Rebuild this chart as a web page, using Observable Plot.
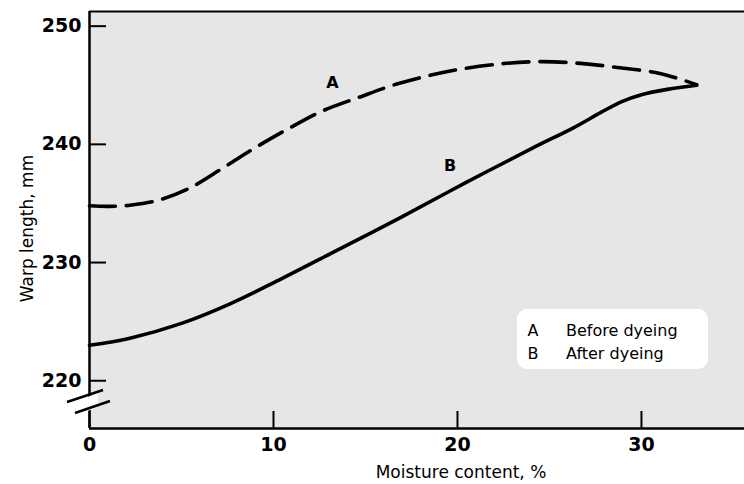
<!DOCTYPE html>
<html>
<head>
<meta charset="utf-8">
<script src="https://cdn.jsdelivr.net/npm/d3@7"></script>
<script src="https://cdn.jsdelivr.net/npm/@observablehq/plot@0.6"></script>
<style>
  html, body { margin: 0; padding: 0; background: #fff; }
  #chart { width: 744px; height: 484px; position: relative; }
</style>
</head>
<body>
<div id="chart"></div>
<script>
// Tick values
const xTicks = [0, 10, 20, 30];
const yTicks = [220, 230, 240, 250];

// Curve A: before dyeing (dashed)
const aMoisture = [0, 1.1, 2.2, 3.7, 5.5, 7.3, 9.1, 10.9, 12.7, 14.6, 16.7, 19.6, 22.3, 24.5, 26.7, 28.7, 31.0, 33.0];
const aLength   = [234.8, 234.75, 234.85, 235.25, 236.35, 238.05, 239.8, 241.4, 242.85, 243.95, 245.1, 246.2, 246.8, 247.0, 246.85, 246.5, 246.0, 245.05];

// Curve B: after dyeing (solid)
const bMoisture = [0, 2.2, 5.0, 7.7, 10.4, 13.1, 16.9, 20.5, 24.1, 26.3, 27.8, 28.9, 30.0, 31.4, 33.0];
const bLength   = [223.0, 223.6, 224.85, 226.55, 228.6, 230.75, 233.8, 236.8, 239.7, 241.4, 242.7, 243.6, 244.2, 244.65, 245.0];

// Curve labels
const curveNames = ["A", "B"];
const curveLabelX = [13.2, 19.6];
const curveLabelY = [245.2, 238.2];

// Legend
const legendKeys = ["A", "B"];
const legendNames = ["Before dyeing", "After dyeing"];

const A = aMoisture.map((x, i) => ({x, y: aLength[i]}));
const B = bMoisture.map((x, i) => ({x, y: bLength[i]}));
const labels = curveNames.map((t, i) => ({t, x: curveLabelX[i], y: curveLabelY[i]}));

const yDomain = [215.96, 251.24];

const chart = Plot.plot({
  width: 744,
  height: 484,
  marginLeft: 89,
  marginRight: 0,
  marginTop: 11,
  marginBottom: 56,
  style: {fontFamily: "DejaVu Sans", background: "white", color: "black"},
  x: {domain: [0, 35.6]},
  y: {domain: yDomain},
  marks: [
    Plot.frame({fill: "#e6e6e6", stroke: null}),
    // inward ticks
    Plot.axisX(xTicks, {tickSize: -17, strokeWidth: 2, tickFormat: () => "", label: null}),
    Plot.axisY(yTicks, {tickSize: -17, strokeWidth: 2, tickFormat: () => "", label: null}),
    // tick labels
    Plot.axisX(xTicks, {tickSize: 0, tickPadding: 9, fontSize: 19, fontWeight: "bold", label: null}),
    Plot.axisY(yTicks, {tickSize: 0, tickPadding: 8, fontSize: 19, fontWeight: "bold", label: null}),
    // frame lines
    Plot.ruleX([0], {stroke: "black", strokeWidth: 2.5}),
    Plot.ruleY([yDomain[0]], {stroke: "black", strokeWidth: 2.5}),
    Plot.ruleY([yDomain[1]], {stroke: "black", strokeWidth: 2}),
    // curves
    Plot.line(A, {x: "x", y: "y", curve: "catmull-rom", stroke: "black", strokeWidth: 3.6, strokeDasharray: "26,11"}),
    Plot.line(B, {x: "x", y: "y", curve: "catmull-rom", stroke: "black", strokeWidth: 3.6}),
    Plot.text(labels, {x: "x", y: "y", text: "t", fontSize: 16, fontWeight: "bold", fill: "black"}),
    // axis titles
    Plot.text(["Moisture content, %"], {frameAnchor: "bottom", textAnchor: "middle", lineAnchor: "middle", dx: 44, dy: 44, fontSize: 17, fill: "black"}),
    Plot.text(["Warp length, mm"], {frameAnchor: "left", textAnchor: "middle", lineAnchor: "middle", rotate: -90, dx: -62, dy: 8.5, fontSize: 17, fill: "black"})
  ]
});

document.getElementById("chart").appendChild(chart);

const svg = d3.select(chart);
// axis break
const brk = svg.append("g");
brk.append("polygon")
  .attr("points", "82,399 98,393 98,407 82,413")
  .attr("fill", "white");
brk.append("line").attr("x1", 67).attr("y1", 402).attr("x2", 103).attr("y2", 390)
  .attr("stroke", "black").attr("stroke-width", 2.5);
brk.append("line").attr("x1", 75).attr("y1", 413).attr("x2", 110).attr("y2", 401)
  .attr("stroke", "black").attr("stroke-width", 2.5);

// legend
const lg = svg.append("g");
lg.append("rect").attr("x", 517).attr("y", 309).attr("width", 191).attr("height", 60)
  .attr("rx", 10).attr("fill", "white");
legendKeys.forEach((k, i) => {
  const yy = 330 + i * 23;
  lg.append("text").attr("x", 533).attr("y", yy).attr("dy", "0.35em")
    .attr("text-anchor", "middle").attr("font-size", 16).attr("font-family", "DejaVu Sans")
    .attr("fill", "black").text(k);
  lg.append("text").attr("x", 566).attr("y", yy).attr("dy", "0.35em")
    .attr("text-anchor", "start").attr("font-size", 16).attr("font-family", "DejaVu Sans")
    .attr("fill", "black").text(legendNames[i]);
});
</script>
</body>
</html>
